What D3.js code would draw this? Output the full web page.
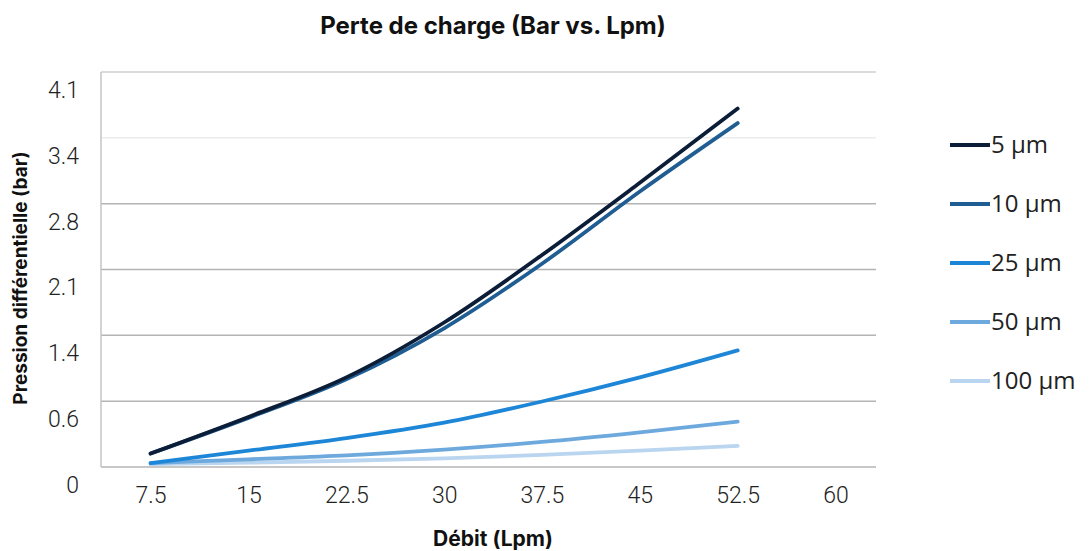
<!DOCTYPE html>
<html>
<head>
<meta charset="utf-8">
<script src="https://cdn.jsdelivr.net/npm/d3@7/dist/d3.min.js"></script>
<style>
  html, body { margin: 0; padding: 0; background: #fff; }
  svg { display: block; }
</style>
</head>
<body>
<svg id="chart" width="1090" height="551"></svg>
<script>
// ---- data ----
const flowRates = [7.5, 15, 22.5, 30, 37.5, 45, 52.5];
const xTickValues = [7.5, 15, 22.5, 30, 37.5, 45, 52.5, 60];
const xTickLabels = ["7.5", "15", "22.5", "30", "37.5", "45", "52.5", "60"];
const yTickLabels = ["0", "0.6", "1.4", "2.1", "2.8", "3.4", "4.1"];
const seriesNames = ["5 µm", "10 µm", "25 µm", "50 µm", "100 µm"];
const series5 = [0.14, 0.52, 0.93, 1.50, 2.20, 2.95, 3.72];
const series10 = [0.14, 0.51, 0.91, 1.44, 2.11, 2.86, 3.57];
const series25 = [0.04, 0.17, 0.30, 0.46, 0.68, 0.93, 1.21];
const series50 = [0.04, 0.08, 0.12, 0.18, 0.26, 0.36, 0.47];
const series100 = [0.03, 0.045, 0.065, 0.09, 0.125, 0.17, 0.22];
const seriesColors = ["#0c1d38", "#1f5d92", "#1e86d6", "#6ea9de", "#b9d5ef"];

const allSeries = [series5, series10, series25, series50, series100];

const svg = d3.select("#chart");
const margin = { left: 101, right: 214, top: 72, bottom: 84 };
const W = 1090, H = 551;
const x = d3.scaleLinear().domain([3.7, 63.1]).range([margin.left, W - margin.right]);
const yMax = 4.1;
const y = d3.scaleLinear().domain([0, yMax]).range([H - margin.bottom, margin.top]);
const yTickValues = d3.range(7).map(i => yMax * i / 6);

// gridlines
const grid = svg.append("g");
grid.selectAll("line").data(yTickValues).join("line")
  .attr("x1", margin.left).attr("x2", W - margin.right)
  .attr("y1", d => y(d)).attr("y2", d => y(d))
  .attr("stroke", (d, i) => i === 5 ? "#ececec" : (i === 6 ? "#cfcfcf" : "#b4b4b4"))
  .attr("stroke-width", 1.5);
// left axis line
svg.append("line")
  .attr("x1", margin.left).attr("x2", margin.left)
  .attr("y1", y(yMax)).attr("y2", y(0))
  .attr("stroke", "#c4c4c4").attr("stroke-width", 1.5);

// y axis labels
const yAxis = d3.axisLeft(y).tickValues(yTickValues)
  .tickFormat((d, i) => yTickLabels[i]).tickSize(0).tickPadding(22);
const gy = svg.append("g").attr("transform", `translate(${margin.left},18)`).call(yAxis);
gy.select(".domain").remove();
gy.selectAll("text").attr("font-family", "Roboto, 'DejaVu Sans', sans-serif")
  .attr("font-weight", 300).attr("font-size", 23).attr("fill", "#222");

// x axis labels
const xAxis = d3.axisBottom(x).tickValues(xTickValues)
  .tickFormat((d, i) => xTickLabels[i]).tickSize(0).tickPadding(20);
const gx = svg.append("g").attr("transform", `translate(0,${y(0)})`).call(xAxis);
gx.select(".domain").remove();
gx.selectAll("text").attr("font-family", "Roboto, 'DejaVu Sans', sans-serif")
  .attr("font-weight", 300).attr("font-size", 23).attr("fill", "#222");

// lines
const line = d3.line().x((d, i) => x(flowRates[i])).y(d => y(d)).curve(d3.curveMonotoneX);
svg.append("g").selectAll("path").data(allSeries.slice().reverse()).join("path")
  .attr("d", d => line(d))
  .attr("fill", "none")
  .attr("stroke", (d, i) => seriesColors[allSeries.length - 1 - i])
  .attr("stroke-width", 3.8)
  .attr("stroke-linecap", "round");

// title
svg.append("text").attr("x", 493).attr("y", 34).attr("text-anchor", "middle")
  .attr("font-family", "Inter, Roboto, sans-serif").attr("font-weight", 700)
  .attr("font-size", 24).attr("fill", "#111").text("Perte de charge (Bar vs. Lpm)");

// x title
svg.append("text").attr("x", 493).attr("y", 546).attr("text-anchor", "middle")
  .attr("font-family", "Inter, Roboto, sans-serif").attr("font-weight", 700)
  .attr("font-size", 21).attr("fill", "#111").text("Débit (Lpm)");

// y title
svg.append("text").attr("transform", "translate(27,278) rotate(-90)").attr("text-anchor", "middle")
  .attr("font-family", "Inter, Roboto, sans-serif").attr("font-weight", 700)
  .attr("font-size", 19).attr("fill", "#111").text("Pression différentielle (bar)");

// legend
const legend = svg.append("g").attr("transform", "translate(950,145)");
const items = legend.selectAll("g").data(seriesNames).join("g")
  .attr("transform", (d, i) => `translate(0,${i * 59})`);
items.append("line").attr("x1", 0).attr("x2", 40).attr("y1", 0).attr("y2", 0)
  .attr("stroke", (d, i) => seriesColors[i]).attr("stroke-width", 3.8);
items.append("text").attr("x", 41).attr("y", 0).attr("dy", "0.35em")
  .attr("font-family", "'Open Sans', 'Liberation Sans', sans-serif")
  .attr("font-size", 24).attr("fill", "#222").text(d => d);
</script>
</body>
</html>
